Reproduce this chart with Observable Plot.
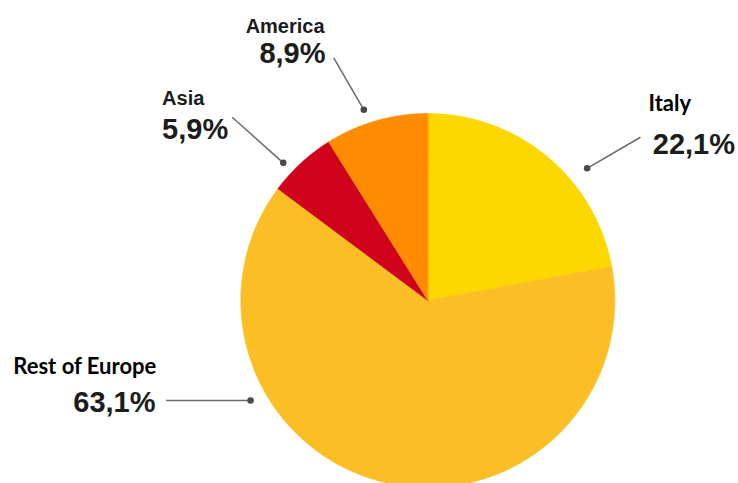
<!DOCTYPE html>
<html><head><meta charset="utf-8">
<script src="https://cdn.jsdelivr.net/npm/d3@7"></script>
<script src="https://cdn.jsdelivr.net/npm/@observablehq/plot@0.6"></script>
<style>body{margin:0;background:#fff}</style>
</head><body><div id="chart"></div>
<script>
// ---- data ----
const categories = ["Italy", "Rest of Europe", "Asia", "America"];
const shares = [22.1, 63.1, 5.9, 8.9];
const colors = ["#FCD700", "#FCBE25", "#D0021B", "#FF8C00"];

// ---- label layout (in pie-radius units) ----
const dotPos   = [[0.852, 0.707], [-0.948, -0.535], [-0.773, 0.736], [-0.342, 1.020]];
const lineEnd  = [[1.137, 0.873], [-1.399, -0.535], [-1.046, 0.980], [-0.503, 1.298]];
const namePos  = [[1.180, 1.012], [-1.452, -0.392], [-1.421, 1.043], [-0.552, 1.432]];
const valuePos = [[1.203, 0.784], [-1.456, -0.597], [-1.421, 0.865], [-0.547, 1.271]];

const fmt = d3.formatLocale({decimal: ",", thousands: ".", grouping: [3], currency: ["", "€"]}).format(".1f");

const data = categories.map((c, i) => ({category: c, share: shares[i]}));
const arcs = d3.pie().sort(null).value(d => d.share)(data);

const poly = [];
arcs.forEach(a => {
  const cat = a.data.category;
  poly.push({cat, x: 0, y: 0});
  const n = Math.max(2, Math.ceil((a.endAngle - a.startAngle) / 0.005));
  for (let i = 0; i <= n; i++) {
    const t = a.startAngle + (a.endAngle - a.startAngle) * i / n;
    poly.push({cat, x: Math.sin(t), y: Math.cos(t)});
  }
});

const labels = categories.map((c, i) => ({
  category: c,
  value: fmt(shares[i]) + "%",
  dx: dotPos[i][0], dy: dotPos[i][1],
  lx: lineEnd[i][0], ly: lineEnd[i][1],
  nx: namePos[i][0], ny: namePos[i][1],
  vx: valuePos[i][0], vy: valuePos[i][1]
}));
const startSide = labels.filter(d => d.category === "Italy" || d.category === "Asia");
const endSide = labels.filter(d => d.category === "Rest of Europe" || d.category === "America");

const nameCommon = {fontWeight: "bold", lineAnchor: "bottom"};
const chart = Plot.plot({
  width: 738, height: 483, margin: 0,
  x: {domain: [-1, 1], range: [240.3, 614.3], axis: null},
  y: {domain: [-1, 1], range: [487, 113], axis: null},
  color: {domain: categories, range: colors},
  style: {background: "#fff"},
  marks: [
    Plot.line(poly, {x: "x", y: "y", z: "cat", fill: "cat", stroke: "cat", strokeWidth: 0.6, curve: "linear-closed"}),
    Plot.link(labels, {x1: "dx", y1: "dy", x2: "lx", y2: "ly", stroke: "#6a6a6a", strokeWidth: 1.5}),
    Plot.dot(labels, {x: "dx", y: "dy", r: 3.3, fill: "#4a4a4a"}),
    // names
    Plot.text(labels.filter(d => d.category === "Italy"), {x: "nx", y: "ny", text: "category", textAnchor: "start", fontFamily: "Lato", fontSize: 22, fill: "#000", ...nameCommon}),
    Plot.text(labels.filter(d => d.category === "Rest of Europe"), {x: "nx", y: "ny", text: "category", textAnchor: "end", fontFamily: "Lato", fontSize: 22, fill: "#000", ...nameCommon}),
    Plot.text(labels.filter(d => d.category === "Asia"), {x: "nx", y: "ny", text: "category", textAnchor: "start", fontFamily: "Liberation Sans, Arial", fontSize: 20, fill: "#1c1c1c", ...nameCommon}),
    Plot.text(labels.filter(d => d.category === "America"), {x: "nx", y: "ny", text: "category", textAnchor: "end", fontFamily: "Liberation Sans, Arial", fontSize: 20, fill: "#1c1c1c", ...nameCommon}),
    // values
    Plot.text(startSide, {x: "vx", y: "vy", text: "value", textAnchor: "start", fontFamily: "Liberation Sans, Arial", fontSize: 29, fill: "#1c1c1c", ...nameCommon}),
    Plot.text(endSide, {x: "vx", y: "vy", text: "value", textAnchor: "end", fontFamily: "Liberation Sans, Arial", fontSize: 29, fill: "#1c1c1c", ...nameCommon})
  ]
});
document.getElementById("chart").appendChild(chart);
</script>
</body></html>
